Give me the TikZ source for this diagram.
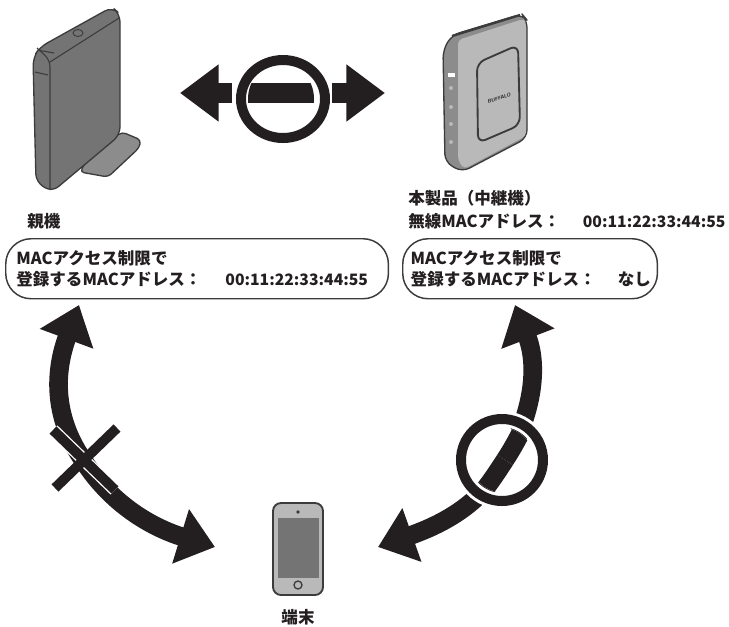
\documentclass[tikz,border=0pt]{standalone}
\usepackage{fontspec}
\usetikzlibrary{arrows.meta}
\newfontfamily\jpfont{Noto Sans CJK JP}

\definecolor{inkblack}{HTML}{231F20}
\definecolor{rimgray}{HTML}{3C3C3C}
\definecolor{darkface}{HTML}{747474}
\definecolor{midface}{HTML}{8C8C8C}
\definecolor{lightface}{HTML}{B9B9B9}

\newcommand{\macaddr}{{\fontsize{11.8}{15.5}\selectfont 00:11:22:33:44:55}}

\tikzset{
    label text/.style={font=\jpfont\bfseries\fontsize{12.4}{15.5}\selectfont, text=inkblack, align=left, inner sep=0pt},
    info box/.style={label text, draw=rimgray, line width=1.1pt, rounded corners=19pt, fill=white,
        minimum height=45pt, inner xsep=8pt, anchor=north west},
    shaft left/.style={line width=15.5pt, draw=inkblack, -{Triangle[length=29pt,width=41pt,fill=inkblack]}},
    shaft curved/.style={line width=14pt, draw=inkblack, -{Triangle[length=27pt,width=41pt,fill=inkblack]}},
    device/.style={draw=rimgray, line width=1pt, rounded corners=3pt, line join=round},
    ring/.style={draw=inkblack, line width=7.5pt},
}

\begin{document}
\begin{tikzpicture}[x=0.75pt, y=-0.75pt]
\useasboundingbox (0, 0) rectangle (729, 626);

% Draw parent router.
\filldraw[device, fill=midface] (122, 132) -- (141, 140) -- (139, 148) -- (108, 177) -- (80, 172) -- (90, 155) -- cycle;
\filldraw[device, fill=darkface, rounded corners=6pt] (33, 58) -- (40, 47) -- (112, 7) -- (120, 14) -- (120, 135) -- (52, 192) -- (36, 182) -- cycle;
\draw[rimgray, line width=0.8pt, rounded corners=5pt] (37, 48) -- (50, 60) -- (50, 190);
\draw[rimgray, line width=0.8pt] (50, 62) -- (119, 18);
\filldraw[fill=darkface, draw=rimgray, line width=0.7pt] (78, 33) ellipse (5 and 3.5);
\draw[rimgray, line width=0.8pt] (37, 50) -- (54, 53);
\draw[rimgray, line width=0.8pt] (35, 72) -- (48, 75);

% Draw repeater.
\filldraw[device, fill=midface, rounded corners=6pt] (443, 50) -- (452, 35) -- (522, 14) -- (527, 20) -- (527, 138) -- (462, 172) -- (445, 162) -- cycle;
\filldraw[device, fill=lightface, draw=none] (458, 40) -- (523, 19) -- (526, 22) -- (526, 136) -- (464, 169) -- (458, 160) -- cycle;
\draw[rimgray, line width=1.8pt] (452, 36) -- (520, 15);
\filldraw[device, fill=lightface, rounded corners=6pt, line width=1.4pt] (477, 63) -- (518, 45) -- (520, 125) -- (478, 143) -- cycle;
\fill[white] (448, 73) rectangle (455, 77);
\foreach \y in {88, 107, 124, 142}
    \fill[lightface] (451, \y) circle (2);
\node[font=\sffamily\bfseries\itshape, scale=0.38, text=inkblack, rotate=18] (logoBrand) at (499, 98) {BUFFALO};

% Draw terminal.
\filldraw[device, fill=lightface, rounded corners=6pt, line width=1.4pt] (273, 503) rectangle (323, 595);
\fill[darkface] (278, 518) rectangle (319, 578);
\fill[rimgray] (298, 512) circle (1.8);
\draw[rimgray, line width=1pt] (298, 585) circle (4);

% Draw text.
\node[label text, anchor=west] (parentLabel) at (27, 221) {親機};
\node[label text, anchor=north west] (repeaterLabel) at (408, 190) {本製品（中継機）\\[2pt]無線MACアドレス：\hspace{17pt}\macaddr};
\node[info box, minimum width=285pt, text width=271pt] (parentBox) at (5, 238) {MACアクセス制限で\\登録するMACアドレス：\hspace{18pt}\macaddr};
\node[info box, minimum width=191pt, text width=179pt, inner xsep=6pt] (repeaterBox) at (402, 238) {MACアクセス制限で\\登録するMACアドレス：\hspace{16.5pt}\rlap{なし}};
\node[label text] (terminalLabel) at (298, 617) {端末};

% Draw the arrow between the routers.
\coordinate (linkCenter) at (283, 99);
\coordinate (barCenter) at (281, 99);
\coordinate (linkLeft) at (232, 93);
\coordinate (linkRight) at (332, 93);
\coordinate (linkTipLeft) at (180, 93);
\coordinate (linkTipRight) at (385, 93);
\draw[shaft left] (linkLeft) -- (linkTipLeft);
\draw[shaft left] (linkRight) -- (linkTipRight);
\draw[ring] (linkCenter) ellipse (42 and 39);
\begin{scope}
    \clip (barCenter) ellipse (33 and 36);
    \fill[inkblack] (240, 83) rectangle (330, 103);
\end{scope}

% Draw the refused arrow.
\coordinate (parentEnd) at (79, 305);
\coordinate (crossCenter) at (83, 460);
\coordinate (terminalLeft) at (215, 547);
\draw[shaft curved] (crossCenter) .. controls (52, 415) and (55, 370) .. (parentEnd);
\draw[shaft curved] (crossCenter) .. controls (115, 510) and (160, 530) .. (terminalLeft);
\draw[white, line width=9.5pt] (53, 430) -- (115, 490);
\draw[inkblack, line width=7.5pt] (53, 430) -- (115, 490);
\draw[inkblack, line width=7.5pt] (117, 428) -- (55, 488);

% Draw the allowed arrow.
\coordinate (repeaterEnd) at (515, 305);
\coordinate (ringCenter) at (502, 460);
\coordinate (barMiddle) at (505, 460);
\coordinate (terminalRight) at (378, 547);
\draw[shaft curved] (barMiddle) .. controls (530, 420) and (540, 370) .. (repeaterEnd);
\draw[shaft curved] (barMiddle) .. controls (482, 505) and (440, 525) .. (terminalRight);
\draw[white, line width=12pt] (ringCenter) circle (41);
\draw[ring] (ringCenter) circle (41);
\begin{scope}
    \clip (ringCenter) circle (32);
    \fill[white] (ringCenter) circle (36);
    \draw[inkblack, line width=14pt] (barMiddle) .. controls (518, 440) and (528, 420) .. (532, 400);
    \draw[inkblack, line width=14pt] (barMiddle) .. controls (494, 477) and (482, 495) .. (470, 505);
\end{scope}

\end{tikzpicture}
\end{document}
